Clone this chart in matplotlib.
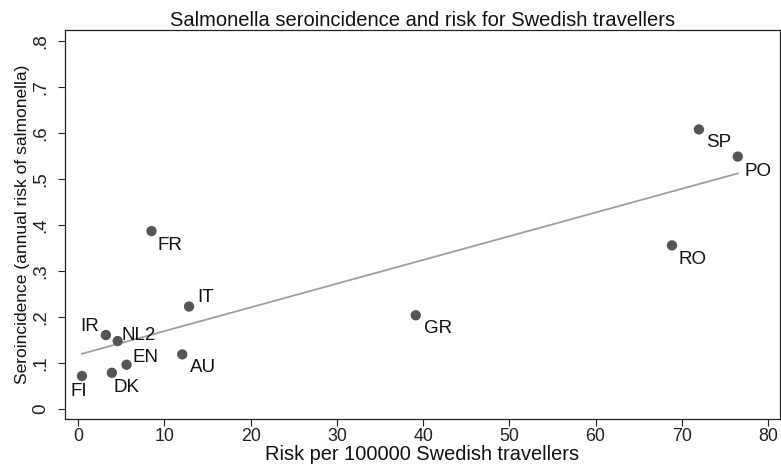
import numpy as np
import matplotlib
matplotlib.use("Agg")
from matplotlib import pyplot as plt

plt.rcParams['font.family'] = ['Liberation Sans', 'DejaVu Sans']

countries = ["FR", "IT", "IR", "NL2", "EN", "AU", "DK", "FI", "GR", "RO", "SP", "PO"]
risk = [8.5, 12.85, 3.2, 4.57, 5.6, 12.06, 3.9, 0.43, 39.15, 68.87, 72.0, 76.5]
seroinc = [0.387, 0.223, 0.161, 0.148, 0.0965, 0.119, 0.079, 0.072, 0.204, 0.356, 0.608, 0.549]

xticks = [0, 10, 20, 30, 40, 50, 60, 70, 80]
yticks = [0, 0.1, 0.2, 0.3, 0.4, 0.5, 0.6, 0.7, 0.8]
ytick_labels = ["0", ".1", ".2", ".3", ".4", ".5", ".6", ".7", ".8"]

# label offsets in pixels from the marker (dx, dy), and horizontal alignment
lab_pos = {
    "FR": (6, -14, "left"), "IT": (8, 9, "left"), "IR": (-7, 9, "right"),
    "NL2": (4, 6, "left"), "EN": (6, 7, "left"), "AU": (8, -13, "left"),
    "DK": (2, -15, "left"), "FI": (-3, -15, "center"), "GR": (8, -13, "left"),
    "RO": (7, -14, "left"), "SP": (7, -13, "left"), "PO": (7, -15, "left"),
}

fig = plt.figure(figsize=(7.81, 4.70), dpi=100)
ax = fig.add_axes([0.0832, 0.108, 0.9155, 0.828])

# linear fit
b, a = np.polyfit(risk, seroinc, 1)
xs = np.array([min(risk), max(risk)])
ax.plot(xs, a + b * xs, color="#a0a0a0", lw=1.3, zorder=2)

ax.scatter(risk, seroinc, s=55, color="#555555", edgecolors="none", zorder=3)
for c, x, y in zip(countries, risk, seroinc):
    dx, dy, ha = lab_pos[c]
    ax.annotate(c, (x, y), xytext=(dx, dy), textcoords="offset pixels",
                ha=ha, va="center", fontsize=13.5, color="#111111")

ax.set_xlim(-1.54, 81.4)
ax.set_ylim(-0.022, 0.824)
ax.set_xticks(xticks)
ax.set_yticks(yticks)
ax.set_yticklabels(ytick_labels, rotation=90, va="center")
ax.tick_params(axis="both", direction="out", length=5, width=0.8,
               colors="#222222")
ax.tick_params(axis="y", pad=6, labelsize=13.5)
ax.tick_params(axis="x", pad=1.5, labelsize=12.8)
for sp in ax.spines.values():
    sp.set_linewidth(0.9)
    sp.set_color("#222222")

ax.set_title("Salmonella seroincidence and risk for Swedish travellers",
             fontsize=14.5, pad=2, color="#111111")
ax.set_xlabel("Risk per 100000 Swedish travellers", fontsize=14.4, labelpad=0,
              color="#111111")
ax.set_ylabel("Seroincidence (annual risk of salmonella)", fontsize=12.5,
              labelpad=2, color="#111111")

fig.savefig("out.png", dpi=100)
